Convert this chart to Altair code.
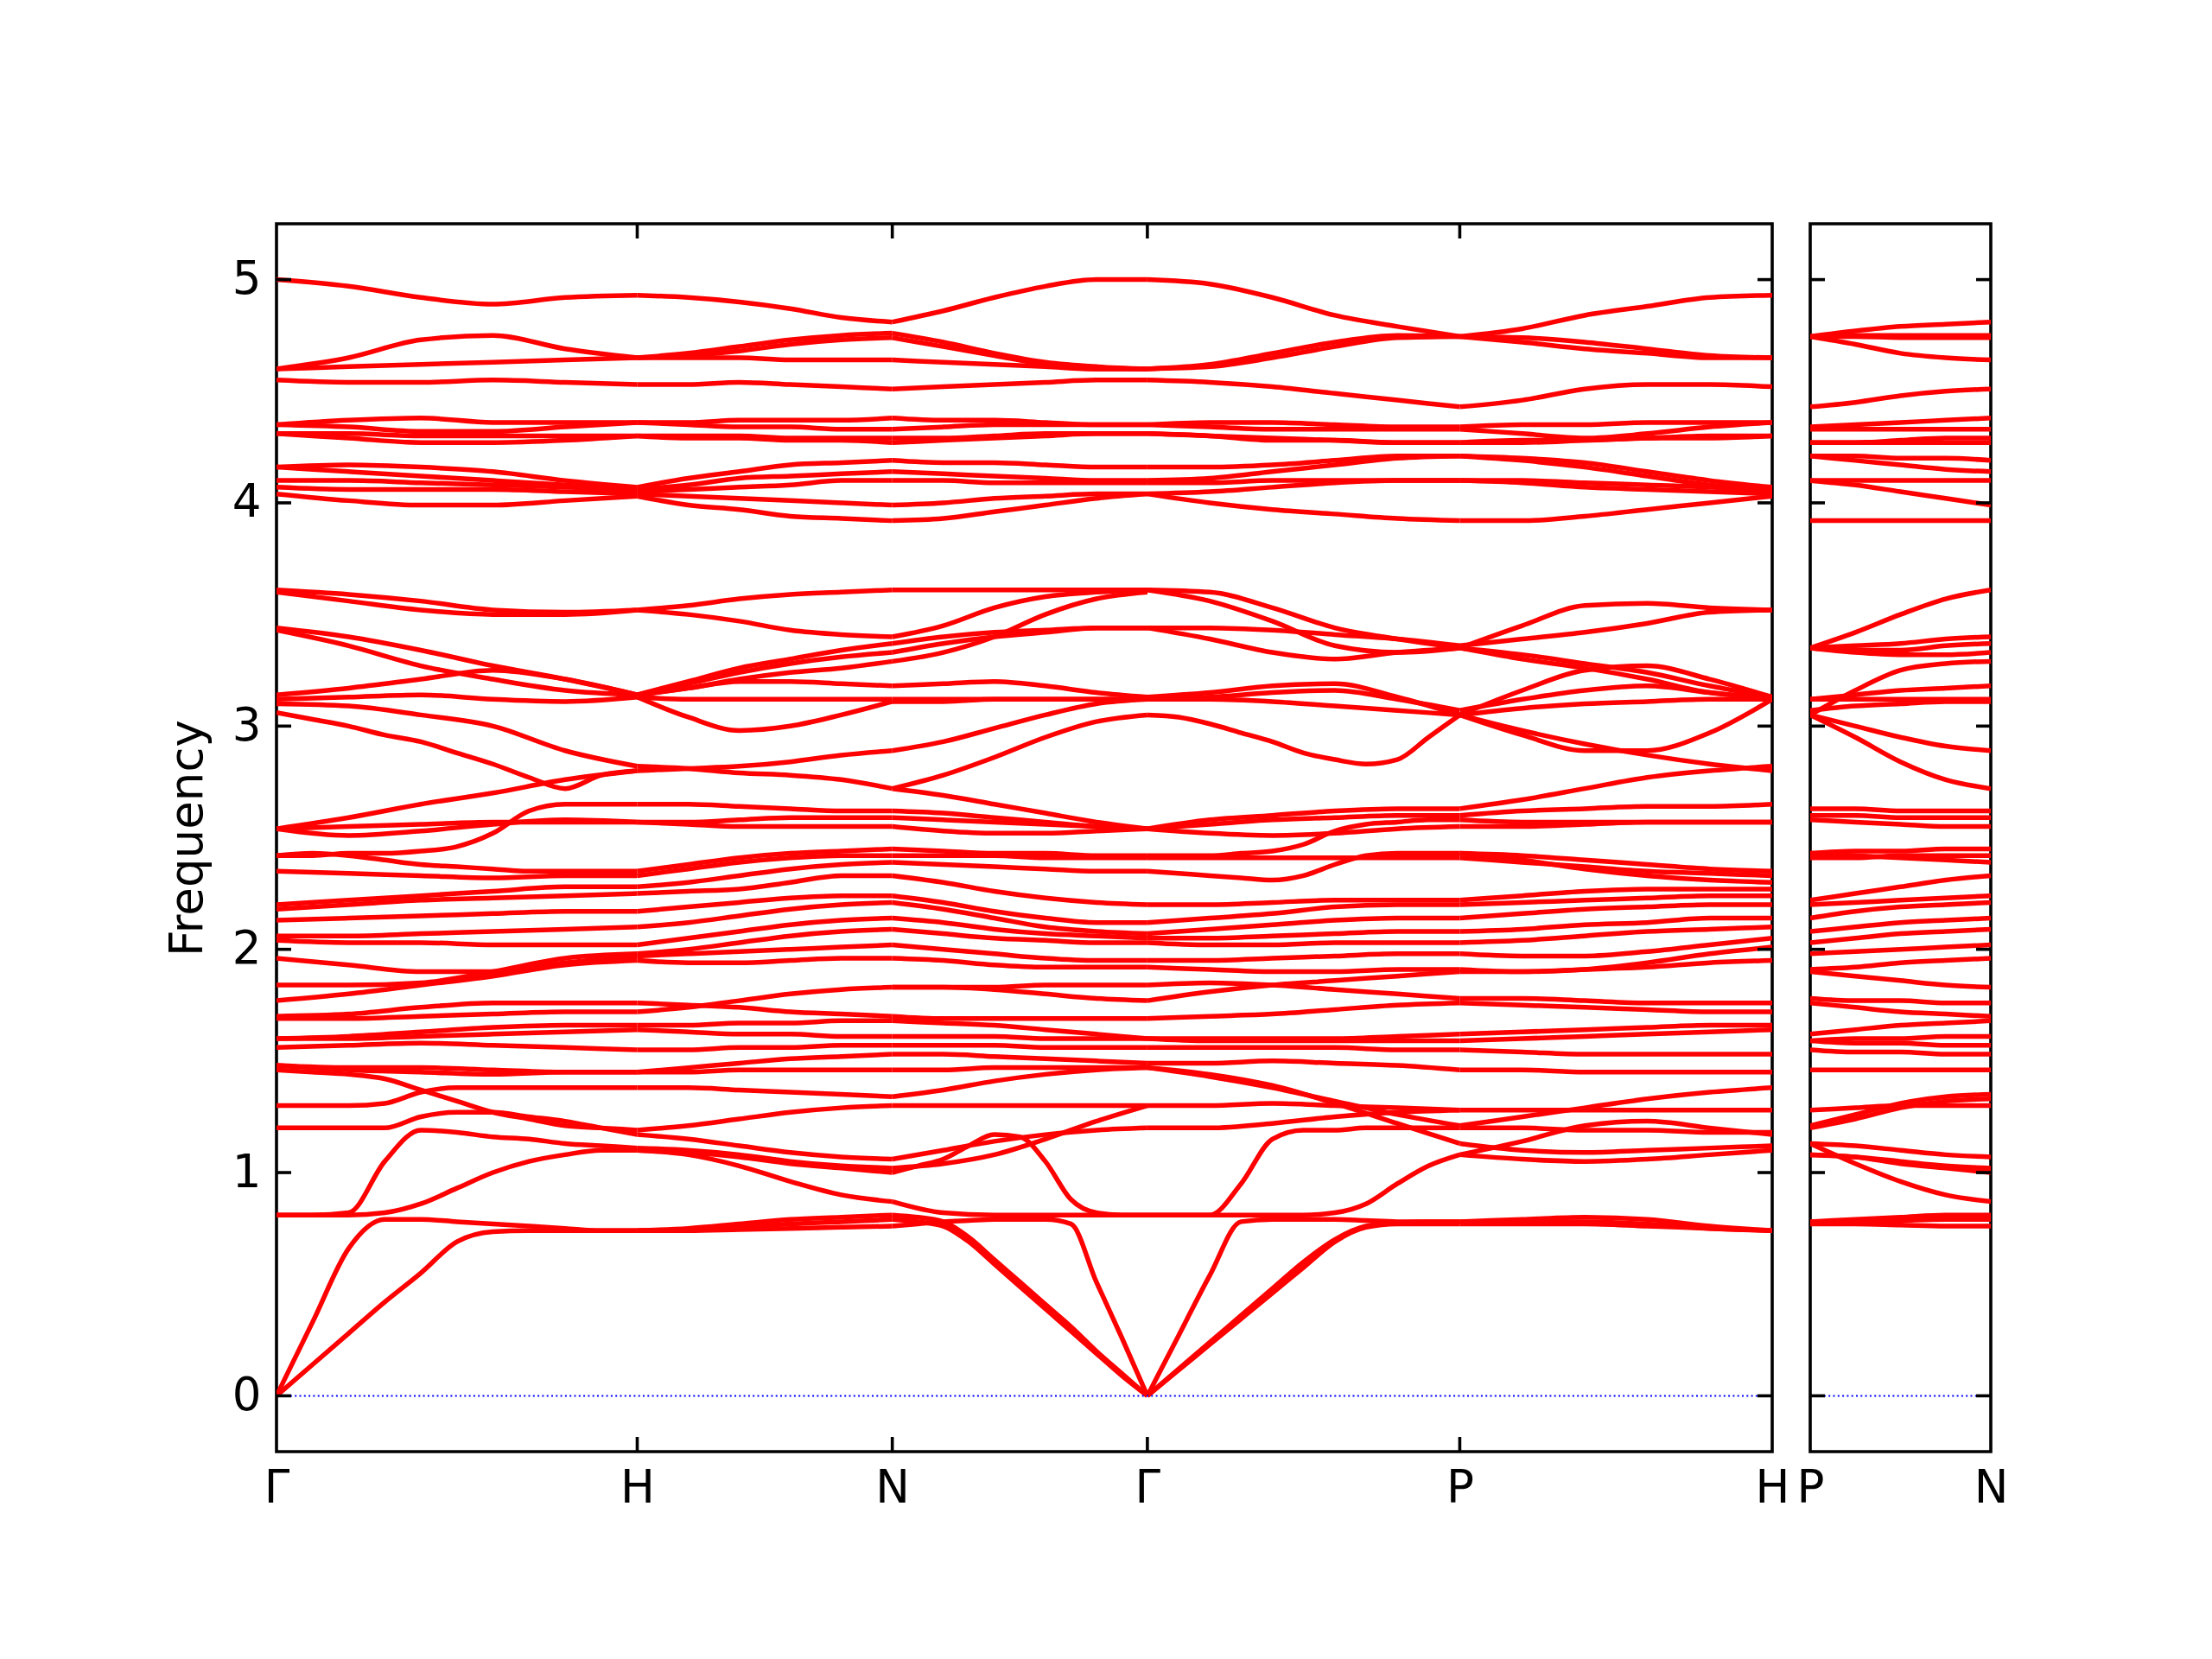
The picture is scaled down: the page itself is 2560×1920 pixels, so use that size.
import altair as alt
import pandas as pd

# high-symmetry path (cumulative k-distance) and labels
sym_main = [0.0, 1.0, 1.7071, 2.4142, 3.2802, 4.1463]
lab_main = ["Γ", "H", "N", "Γ", "P", "H"]
sym_pn = [0.0, 0.5]
lab_pn = ["P", "N"]
y_ticks = [0, 1, 2, 3, 4, 5]

frac5 = [0.0, 0.25, 0.5, 0.75, 1.0]
frac6 = [0.0, 0.2, 0.4, 0.6, 0.8, 1.0]
frac11 = [i / 10 for i in range(11)]

seg_GH = [
    [5.00, 4.97, 4.92, 4.89, 4.92, 4.93],
    [4.60, 4.65, 4.73, 4.75, 4.69, 4.65],
    [4.60, 4.61, 4.62, 4.63, 4.64, 4.65],
    [4.55, 4.54, 4.54, 4.55, 4.54, 4.53],
    [4.35, 4.37, 4.38, 4.36, 4.36, 4.36],
    [4.35, 4.34, 4.32, 4.32, 4.34, 4.36],
    [4.31, 4.29, 4.27, 4.27, 4.28, 4.30],
    [4.31, 4.31, 4.30, 4.30, 4.30, 4.30],
    [4.16, 4.17, 4.16, 4.14, 4.10, 4.07],
    [4.16, 4.14, 4.12, 4.10, 4.08, 4.06],
    [4.10, 4.10, 4.09, 4.08, 4.07, 4.05],
    [4.07, 4.06, 4.06, 4.06, 4.05, 4.04],
    [4.04, 4.01, 3.99, 3.99, 4.01, 4.03],
    [3.61, 3.59, 3.56, 3.52, 3.51, 3.52],
    [3.60, 3.56, 3.52, 3.50, 3.50, 3.52],
    [3.44, 3.40, 3.34, 3.27, 3.21, 3.14],
    [3.43, 3.36, 3.27, 3.21, 3.16, 3.14],
    [3.14, 3.17, 3.21, 3.25, 3.21, 3.14],
    [3.12, 3.13, 3.14, 3.12, 3.11, 3.13],
    [3.10, 3.09, 3.05, 3.00, 2.89, 2.82],
    [3.06, 3.03, 3.00, 2.96, 2.93, 2.88, 2.83, 2.77, 2.72, 2.78, 2.80],
    [2.54, 2.59, 2.65, 2.70, 2.76, 2.80],
    [2.54, 2.55, 2.56, 2.57, 2.57, 2.57],
    [2.54, 2.51, 2.53, 2.56, 2.58, 2.57],
    [2.42, 2.42, 2.43, 2.43, 2.44, 2.46, 2.52, 2.62, 2.65, 2.65, 2.65],
    [2.42, 2.43, 2.42, 2.40, 2.38, 2.37, 2.36, 2.35, 2.35, 2.35, 2.35],
    [2.35, 2.34, 2.33, 2.32, 2.33, 2.33],
    [2.20, 2.22, 2.24, 2.26, 2.28, 2.28],
    [2.18, 2.20, 2.22, 2.23, 2.24, 2.25],
    [2.13, 2.14, 2.15, 2.16, 2.17, 2.17],
    [2.06, 2.06, 2.07, 2.08, 2.09, 2.10],
    [2.04, 2.03, 2.03, 2.02, 2.02, 2.02],
    [1.96, 1.93, 1.90, 1.90, 1.94, 1.97],
    [1.84, 1.84, 1.85, 1.90, 1.96, 1.98],
    [1.77, 1.80, 1.84, 1.88, 1.93, 1.95],
    [1.70, 1.71, 1.74, 1.76, 1.76, 1.76],
    [1.69, 1.69, 1.70, 1.71, 1.72, 1.72],
    [1.60, 1.61, 1.63, 1.65, 1.66, 1.66],
    [1.60, 1.60, 1.61, 1.62, 1.63, 1.64],
    [1.56, 1.57, 1.58, 1.57, 1.56, 1.55],
    [1.48, 1.47, 1.47, 1.46, 1.45, 1.45],
    [1.48, 1.46, 1.45, 1.44, 1.45, 1.45],
    [1.46, 1.45, 1.44, 1.42, 1.37, 1.32, 1.27, 1.24, 1.21, 1.20, 1.19],
    [1.30, 1.30, 1.30, 1.31, 1.36, 1.38, 1.38, 1.38, 1.38, 1.38, 1.38],
    [1.20, 1.20, 1.20, 1.20, 1.25, 1.27, 1.27, 1.25, 1.23, 1.20, 1.17],
    [0.81, 0.81, 0.82, 1.05, 1.19, 1.18, 1.16, 1.15, 1.13, 1.12, 1.11],
    [0.81, 0.81, 0.81, 0.82, 0.86, 0.93, 1.00, 1.05, 1.08, 1.10, 1.10],
    [0.00, 0.33, 0.66, 0.79, 0.79, 0.78, 0.77, 0.76, 0.75, 0.74, 0.74],
    [0.00, 0.14, 0.28, 0.42, 0.55, 0.69, 0.735, 0.74, 0.74, 0.74, 0.74],
]

seg_HN = [
    [4.93, 4.92, 4.90, 4.87, 4.83, 4.81],
    [4.65, 4.67, 4.70, 4.73, 4.75, 4.76],
    [4.65, 4.66, 4.68, 4.71, 4.73, 4.74],
    [4.65, 4.65, 4.65, 4.64, 4.64, 4.64],
    [4.53, 4.53, 4.54, 4.53, 4.52, 4.51],
    [4.36, 4.36, 4.37, 4.37, 4.37, 4.38],
    [4.36, 4.35, 4.34, 4.34, 4.33, 4.33],
    [4.30, 4.29, 4.29, 4.28, 4.28, 4.27],
    [4.30, 4.30, 4.30, 4.29, 4.29, 4.29],
    [4.07, 4.11, 4.14, 4.17, 4.18, 4.19],
    [4.06, 4.08, 4.11, 4.12, 4.13, 4.14],
    [4.05, 4.06, 4.07, 4.08, 4.10, 4.10],
    [4.04, 4.03, 4.02, 4.01, 4.00, 3.99],
    [4.03, 3.99, 3.97, 3.94, 3.93, 3.92],
    [3.52, 3.54, 3.57, 3.59, 3.60, 3.61],
    [3.52, 3.50, 3.47, 3.43, 3.41, 3.40],
    [3.14, 3.20, 3.26, 3.30, 3.34, 3.37],
    [3.14, 3.19, 3.24, 3.28, 3.31, 3.33],
    [3.14, 3.17, 3.21, 3.24, 3.26, 3.29],
    [3.14, 3.17, 3.20, 3.20, 3.19, 3.18],
    [3.13, 3.12, 3.12, 3.12, 3.12, 3.12],
    [3.13, 3.04, 2.98, 3.00, 3.05, 3.11],
    [2.82, 2.81, 2.79, 2.78, 2.76, 2.72],
    [2.80, 2.81, 2.82, 2.84, 2.87, 2.89],
    [2.65, 2.65, 2.64, 2.63, 2.62, 2.62],
    [2.57, 2.57, 2.58, 2.59, 2.59, 2.59],
    [2.57, 2.56, 2.55, 2.55, 2.55, 2.55],
    [2.35, 2.38, 2.41, 2.43, 2.44, 2.45],
    [2.33, 2.36, 2.39, 2.41, 2.42, 2.42],
    [2.28, 2.30, 2.33, 2.36, 2.38, 2.39],
    [2.25, 2.26, 2.27, 2.30, 2.33, 2.33],
    [2.17, 2.19, 2.21, 2.23, 2.24, 2.24],
    [2.10, 2.12, 2.15, 2.18, 2.20, 2.21],
    [2.02, 2.05, 2.08, 2.11, 2.13, 2.14],
    [1.98, 2.00, 2.03, 2.06, 2.08, 2.09],
    [1.97, 1.98, 1.99, 2.00, 2.01, 2.02],
    [1.95, 1.94, 1.94, 1.95, 1.96, 1.96],
    [1.76, 1.75, 1.74, 1.72, 1.71, 1.70],
    [1.72, 1.74, 1.77, 1.80, 1.82, 1.83],
    [1.66, 1.66, 1.67, 1.67, 1.68, 1.68],
    [1.64, 1.63, 1.62, 1.62, 1.61, 1.61],
    [1.55, 1.55, 1.56, 1.56, 1.57, 1.57],
    [1.45, 1.47, 1.49, 1.51, 1.52, 1.53],
    [1.45, 1.45, 1.46, 1.46, 1.46, 1.46],
    [1.38, 1.38, 1.37, 1.36, 1.35, 1.34],
    [1.19, 1.21, 1.24, 1.27, 1.29, 1.30],
    [1.17, 1.15, 1.12, 1.09, 1.07, 1.06],
    [1.11, 1.10, 1.08, 1.05, 1.03, 1.02],
    [1.10, 1.09, 1.07, 1.04, 1.02, 1.00],
    [1.10, 1.08, 1.03, 0.96, 0.90, 0.87],
    [0.74, 0.75, 0.77, 0.79, 0.80, 0.81],
    [0.74, 0.745, 0.755, 0.77, 0.78, 0.79],
    [0.74, 0.74, 0.745, 0.75, 0.755, 0.76],
]

seg_NG = [
    [4.81, 4.86, 4.92, 4.97, 5.00, 5.00],
    [4.76, 4.72, 4.67, 4.63, 4.61, 4.60],
    [4.74, 4.70, 4.66, 4.62, 4.60, 4.60],
    [4.64, 4.63, 4.62, 4.61, 4.60, 4.60],
    [4.51, 4.52, 4.53, 4.54, 4.55, 4.55],
    [4.38, 4.37, 4.37, 4.36, 4.35, 4.35],
    [4.33, 4.34, 4.35, 4.35, 4.35, 4.35],
    [4.27, 4.28, 4.29, 4.30, 4.31, 4.31],
    [4.29, 4.29, 4.30, 4.31, 4.31, 4.31],
    [4.19, 4.18, 4.18, 4.17, 4.16, 4.16],
    [4.14, 4.13, 4.12, 4.11, 4.10, 4.10],
    [4.10, 4.10, 4.09, 4.09, 4.09, 4.09],
    [3.99, 4.00, 4.02, 4.03, 4.04, 4.04],
    [3.92, 3.93, 3.96, 3.99, 4.02, 4.04],
    [3.61, 3.61, 3.61, 3.61, 3.61, 3.61],
    [3.40, 3.45, 3.53, 3.58, 3.60, 3.61],
    [3.37, 3.40, 3.42, 3.43, 3.44, 3.44],
    [3.33, 3.37, 3.40, 3.42, 3.44, 3.44],
    [3.29, 3.33, 3.40, 3.50, 3.57, 3.60],
    [3.18, 3.19, 3.20, 3.18, 3.15, 3.13],
    [3.12, 3.12, 3.12, 3.12, 3.12, 3.12],
    [3.11, 3.11, 3.12, 3.12, 3.12, 3.12],
    [2.89, 2.93, 2.99, 3.05, 3.10, 3.12],
    [2.72, 2.78, 2.86, 2.95, 3.02, 3.05],
    [2.72, 2.69, 2.65, 2.61, 2.57, 2.54],
    [2.62, 2.61, 2.59, 2.57, 2.55, 2.54],
    [2.59, 2.58, 2.57, 2.56, 2.55, 2.54],
    [2.55, 2.53, 2.52, 2.52, 2.53, 2.54],
    [2.45, 2.44, 2.43, 2.43, 2.42, 2.42],
    [2.42, 2.42, 2.42, 2.41, 2.41, 2.41],
    [2.39, 2.38, 2.37, 2.36, 2.35, 2.35],
    [2.33, 2.30, 2.26, 2.23, 2.21, 2.20],
    [2.24, 2.21, 2.17, 2.14, 2.12, 2.12],
    [2.21, 2.18, 2.14, 2.10, 2.08, 2.07],
    [2.14, 2.12, 2.09, 2.07, 2.06, 2.05],
    [2.09, 2.07, 2.05, 2.04, 2.03, 2.03],
    [2.02, 2.00, 1.98, 1.96, 1.95, 1.95],
    [1.96, 1.95, 1.93, 1.92, 1.92, 1.92],
    [1.83, 1.83, 1.83, 1.84, 1.84, 1.84],
    [1.83, 1.83, 1.82, 1.80, 1.78, 1.77],
    [1.70, 1.69, 1.69, 1.69, 1.69, 1.69],
    [1.68, 1.67, 1.66, 1.64, 1.62, 1.60],
    [1.61, 1.61, 1.61, 1.60, 1.60, 1.60],
    [1.57, 1.57, 1.57, 1.56, 1.56, 1.56],
    [1.53, 1.53, 1.52, 1.51, 1.50, 1.49],
    [1.46, 1.46, 1.47, 1.47, 1.47, 1.47],
    [1.34, 1.37, 1.41, 1.44, 1.46, 1.47],
    [1.30, 1.30, 1.30, 1.30, 1.30, 1.30],
    [1.06, 1.10, 1.14, 1.17, 1.19, 1.20],
    [1.02, 1.04, 1.08, 1.15, 1.23, 1.30],
    [1.00, 1.03, 1.06, 1.12, 1.17, 1.16, 1.05, 0.88, 0.82, 0.81, 0.81],
    [0.87, 0.82, 0.81, 0.81, 0.81, 0.81],
    [0.81, 0.80, 0.78, 0.71, 0.61, 0.51, 0.41, 0.31, 0.20, 0.10, 0.00],
    [0.79, 0.78, 0.76, 0.69, 0.59, 0.49, 0.39, 0.29, 0.19, 0.09, 0.00],
    [0.76, 0.77, 0.78, 0.785, 0.79, 0.79, 0.79, 0.77, 0.51, 0.26, 0.00],
]

seg_GP = [
    [5.00, 4.98, 4.92, 4.84, 4.79, 4.745],
    [4.60, 4.62, 4.67, 4.72, 4.75, 4.745],
    [4.60, 4.61, 4.65, 4.70, 4.74, 4.745],
    [4.55, 4.54, 4.52, 4.49, 4.46, 4.43],
    [4.35, 4.36, 4.36, 4.35, 4.34, 4.34],
    [4.35, 4.34, 4.33, 4.33, 4.33, 4.33],
    [4.31, 4.30, 4.28, 4.28, 4.27, 4.27],
    [4.31, 4.30, 4.29, 4.28, 4.27, 4.27],
    [4.16, 4.16, 4.17, 4.19, 4.21, 4.21],
    [4.10, 4.11, 4.14, 4.17, 4.20, 4.21],
    [4.09, 4.09, 4.10, 4.10, 4.10, 4.10],
    [4.04, 4.05, 4.07, 4.09, 4.10, 4.10],
    [4.04, 4.00, 3.97, 3.95, 3.93, 3.92],
    [3.61, 3.60, 3.53, 3.44, 3.39, 3.35],
    [3.61, 3.56, 3.47, 3.36, 3.33, 3.35],
    [3.44, 3.44, 3.43, 3.41, 3.39, 3.36],
    [3.44, 3.39, 3.33, 3.30, 3.33, 3.35],
    [3.13, 3.15, 3.18, 3.19, 3.13, 3.05],
    [3.12, 3.13, 3.15, 3.16, 3.12, 3.07],
    [3.12, 3.12, 3.11, 3.09, 3.07, 3.05],
    [3.05, 3.04, 3.01, 2.97, 2.93, 2.88, 2.85, 2.83, 2.85, 2.95, 3.05],
    [2.54, 2.58, 2.60, 2.62, 2.63, 2.63],
    [2.54, 2.56, 2.58, 2.59, 2.60, 2.60],
    [2.54, 2.52, 2.51, 2.52, 2.54, 2.55],
    [2.42, 2.42, 2.42, 2.43, 2.44, 2.47, 2.53, 2.56, 2.57, 2.58, 2.58],
    [2.41, 2.41, 2.41, 2.41, 2.41, 2.41],
    [2.35, 2.34, 2.33, 2.32, 2.31, 2.33, 2.38, 2.42, 2.43, 2.43, 2.43],
    [2.20, 2.20, 2.21, 2.22, 2.22, 2.22],
    [2.12, 2.14, 2.16, 2.19, 2.20, 2.20],
    [2.07, 2.09, 2.11, 2.13, 2.14, 2.14],
    [2.05, 2.05, 2.06, 2.07, 2.08, 2.08],
    [2.03, 2.02, 2.02, 2.03, 2.03, 2.03],
    [1.95, 1.95, 1.96, 1.97, 1.98, 1.98],
    [1.92, 1.91, 1.90, 1.90, 1.91, 1.91],
    [1.84, 1.85, 1.84, 1.82, 1.80, 1.78],
    [1.77, 1.81, 1.84, 1.86, 1.88, 1.90],
    [1.69, 1.70, 1.71, 1.73, 1.75, 1.76],
    [1.60, 1.60, 1.60, 1.60, 1.61, 1.62],
    [1.60, 1.59, 1.59, 1.59, 1.59, 1.59],
    [1.56, 1.56, 1.56, 1.56, 1.55, 1.55],
    [1.49, 1.49, 1.50, 1.49, 1.48, 1.46],
    [1.47, 1.43, 1.38, 1.32, 1.26, 1.21],
    [1.47, 1.44, 1.39, 1.31, 1.22, 1.13],
    [1.30, 1.30, 1.31, 1.30, 1.29, 1.28],
    [1.20, 1.20, 1.22, 1.25, 1.27, 1.28],
    [0.81, 0.81, 0.81, 0.95, 1.15, 1.19, 1.19, 1.20, 1.20, 1.20, 1.20],
    [0.81, 0.81, 0.81, 0.81, 0.81, 0.81, 0.82, 0.86, 0.95, 1.03, 1.08],
    [0.00, 0.27, 0.54, 0.78, 0.79, 0.79, 0.79, 0.785, 0.78, 0.78, 0.78],
    [0.00, 0.115, 0.23, 0.345, 0.46, 0.575, 0.69, 0.755, 0.77, 0.77, 0.77],
    [0.00, 0.12, 0.24, 0.36, 0.48, 0.60, 0.70, 0.76, 0.775, 0.78, 0.78],
]

seg_PH = [
    [4.745, 4.78, 4.84, 4.88, 4.92, 4.93],
    [4.745, 4.72, 4.69, 4.67, 4.65, 4.65],
    [4.745, 4.74, 4.72, 4.69, 4.66, 4.65],
    [4.43, 4.46, 4.51, 4.53, 4.53, 4.52],
    [4.34, 4.35, 4.35, 4.36, 4.36, 4.36],
    [4.33, 4.31, 4.29, 4.31, 4.34, 4.36],
    [4.27, 4.27, 4.28, 4.29, 4.30, 4.30],
    [4.27, 4.28, 4.28, 4.29, 4.29, 4.30],
    [4.21, 4.20, 4.18, 4.14, 4.10, 4.07],
    [4.21, 4.19, 4.16, 4.12, 4.08, 4.06],
    [4.10, 4.10, 4.09, 4.08, 4.07, 4.05],
    [4.10, 4.09, 4.07, 4.06, 4.05, 4.04],
    [3.92, 3.92, 3.94, 3.97, 4.00, 4.03],
    [3.35, 3.32, 3.28, 3.24, 3.18, 3.13],
    [3.35, 3.45, 3.54, 3.55, 3.53, 3.52],
    [3.36, 3.39, 3.42, 3.46, 3.51, 3.52],
    [3.35, 3.30, 3.26, 3.21, 3.15, 3.13],
    [3.05, 3.16, 3.25, 3.27, 3.21, 3.13],
    [3.05, 2.98, 2.92, 2.87, 2.83, 2.80],
    [3.07, 3.12, 3.16, 3.18, 3.15, 3.12],
    [3.05, 2.96, 2.89, 2.89, 2.97, 3.12],
    [3.05, 3.08, 3.10, 3.11, 3.12, 3.12],
    [2.63, 2.67, 2.72, 2.77, 2.80, 2.82],
    [2.60, 2.62, 2.63, 2.64, 2.64, 2.65],
    [2.58, 2.57, 2.57, 2.57, 2.57, 2.57],
    [2.55, 2.55, 2.56, 2.57, 2.57, 2.57],
    [2.43, 2.42, 2.40, 2.38, 2.36, 2.35],
    [2.41, 2.39, 2.37, 2.35, 2.34, 2.33],
    [2.43, 2.40, 2.36, 2.33, 2.31, 2.30],
    [2.22, 2.24, 2.26, 2.27, 2.27, 2.27],
    [2.20, 2.21, 2.22, 2.23, 2.24, 2.24],
    [2.14, 2.16, 2.18, 2.19, 2.20, 2.20],
    [2.08, 2.09, 2.11, 2.12, 2.14, 2.14],
    [2.03, 2.04, 2.06, 2.08, 2.09, 2.10],
    [1.98, 1.97, 1.97, 1.99, 2.02, 2.05],
    [1.91, 1.90, 1.91, 1.94, 1.98, 2.01],
    [1.90, 1.90, 1.91, 1.92, 1.94, 1.95],
    [1.78, 1.78, 1.77, 1.76, 1.76, 1.76],
    [1.76, 1.75, 1.74, 1.73, 1.72, 1.72],
    [1.62, 1.63, 1.64, 1.65, 1.66, 1.66],
    [1.59, 1.60, 1.61, 1.62, 1.63, 1.64],
    [1.55, 1.54, 1.53, 1.53, 1.53, 1.53],
    [1.46, 1.46, 1.45, 1.45, 1.45, 1.45],
    [1.21, 1.25, 1.29, 1.33, 1.36, 1.38],
    [1.28, 1.28, 1.28, 1.28, 1.28, 1.28],
    [1.20, 1.20, 1.19, 1.19, 1.18, 1.18],
    [1.13, 1.10, 1.09, 1.10, 1.11, 1.12],
    [1.08, 1.06, 1.05, 1.06, 1.08, 1.10],
    [1.08, 1.14, 1.21, 1.23, 1.20, 1.17],
    [0.78, 0.79, 0.80, 0.79, 0.76, 0.74],
    [0.77, 0.77, 0.77, 0.76, 0.75, 0.74],
    [0.78, 0.78, 0.78, 0.77, 0.75, 0.74],
]

seg_PN = [
    [4.745, 4.77, 4.79, 4.80, 4.81],
    [4.745, 4.75, 4.75, 4.75, 4.75],
    [4.745, 4.745, 4.74, 4.74, 4.74],
    [4.745, 4.71, 4.67, 4.65, 4.64],
    [4.43, 4.45, 4.48, 4.50, 4.51],
    [4.34, 4.35, 4.36, 4.37, 4.38],
    [4.33, 4.33, 4.33, 4.33, 4.33],
    [4.27, 4.27, 4.28, 4.29, 4.29],
    [4.27, 4.27, 4.27, 4.27, 4.27],
    [4.21, 4.21, 4.20, 4.20, 4.19],
    [4.21, 4.19, 4.17, 4.15, 4.14],
    [4.10, 4.10, 4.10, 4.10, 4.10],
    [4.10, 4.08, 4.05, 4.02, 3.99],
    [3.92, 3.92, 3.92, 3.92, 3.92],
    [3.35, 3.42, 3.50, 3.57, 3.61],
    [3.35, 3.36, 3.37, 3.39, 3.40],
    [3.35, 3.34, 3.34, 3.36, 3.37],
    [3.35, 3.33, 3.32, 3.32, 3.33],
    [3.05, 3.16, 3.25, 3.28, 3.29],
    [3.12, 3.14, 3.16, 3.17, 3.18],
    [3.12, 3.12, 3.12, 3.12, 3.12],
    [3.07, 3.09, 3.10, 3.11, 3.11],
    [3.05, 3.00, 2.95, 2.91, 2.89],
    [3.05, 2.95, 2.84, 2.76, 2.72],
    [2.63, 2.63, 2.62, 2.62, 2.62],
    [2.60, 2.60, 2.59, 2.59, 2.59],
    [2.58, 2.57, 2.56, 2.55, 2.55],
    [2.43, 2.44, 2.44, 2.45, 2.45],
    [2.41, 2.41, 2.42, 2.42, 2.42],
    [2.43, 2.42, 2.41, 2.40, 2.39],
    [2.22, 2.25, 2.28, 2.31, 2.33],
    [2.20, 2.21, 2.22, 2.23, 2.24],
    [2.14, 2.17, 2.19, 2.20, 2.21],
    [2.08, 2.10, 2.12, 2.13, 2.14],
    [2.03, 2.05, 2.07, 2.08, 2.09],
    [1.98, 1.99, 2.00, 2.01, 2.02],
    [1.91, 1.92, 1.94, 1.95, 1.96],
    [1.90, 1.88, 1.86, 1.84, 1.83],
    [1.78, 1.77, 1.77, 1.76, 1.76],
    [1.76, 1.74, 1.72, 1.71, 1.70],
    [1.62, 1.64, 1.66, 1.67, 1.68],
    [1.59, 1.60, 1.60, 1.61, 1.61],
    [1.59, 1.58, 1.58, 1.57, 1.57],
    [1.55, 1.54, 1.54, 1.53, 1.53],
    [1.46, 1.46, 1.46, 1.46, 1.46],
    [1.28, 1.29, 1.30, 1.30, 1.30],
    [1.21, 1.26, 1.31, 1.34, 1.35],
    [1.20, 1.24, 1.29, 1.32, 1.33],
    [1.13, 1.12, 1.10, 1.08, 1.07],
    [1.13, 1.04, 0.96, 0.90, 0.87],
    [1.08, 1.07, 1.05, 1.03, 1.02],
    [1.08, 1.07, 1.04, 1.02, 1.00],
    [0.78, 0.79, 0.80, 0.81, 0.81],
    [0.78, 0.78, 0.785, 0.79, 0.79],
    [0.77, 0.77, 0.765, 0.76, 0.76],
]


def grid_for(row):
    return {5: frac5, 6: frac6, 11: frac11}[len(row)]


def build(segments, name):
    recs = []
    for si, (rows, x0, x1) in enumerate(segments):
        for ci, row in enumerate(rows):
            for f, v in zip(grid_for(row), row):
                recs.append({"k": x0 + f * (x1 - x0), "freq": v,
                             "curve": f"{name}{si}-{ci}"})
    return pd.DataFrame(recs)


main_segments = [
    (seg_GH, sym_main[0], sym_main[1]),
    (seg_HN, sym_main[1], sym_main[2]),
    (seg_NG, sym_main[2], sym_main[3]),
    (seg_GP, sym_main[3], sym_main[4]),
    (seg_PH, sym_main[4], sym_main[5]),
]
df_main = build(main_segments, "m")
df_pn = build([(seg_PN, sym_pn[0], sym_pn[1])], "p")


def label_expr(pos, labs):
    parts = []
    for i in range(len(pos) - 1):
        mid = (pos[i] + pos[i + 1]) / 2
        parts.append(f"datum.value < {mid:.5f} ? '{labs[i]}' : ")
    return "".join(parts) + f"'{labs[-1]}'"


FONT = "DejaVu Sans"
FS = 53
H = 1421
W1 = 1731
W2 = 209
TL = 17
RED = "#ff0000"

yscale = alt.Scale(domain=[-0.25, 5.25], nice=False, zero=False)


def panel(df, pos, labs, width, show_y):
    xscale = alt.Scale(domain=[pos[0], pos[-1]], nice=False, zero=False)
    xaxis = alt.Axis(values=pos, labelExpr=label_expr(pos, labs), title=None,
                     ticks=False, tickSize=0, domain=False, grid=False,
                     labelFontSize=FS, labelFont=FONT, labelColor="black",
                     labelPadding=16, labelFlush=False, labelOverlap=False)
    if show_y:
        yaxis = alt.Axis(values=y_ticks, format="d", title="Frequency", ticks=False,
                         tickSize=0, domain=False, grid=False, labelFontSize=FS,
                         labelFont=FONT, labelColor="black", labelPadding=18,
                         titleFontSize=FS, titleFont=FONT, titleFontWeight="normal",
                         titleColor="black", titlePadding=24, labelFlush=False)
        yenc = lambda: alt.Y("freq:Q", scale=yscale)
    else:
        yaxis = None
        yenc = lambda: alt.Y("freq:Q", scale=yscale, axis=None)
    xenc = lambda: alt.X("k:Q", scale=xscale)

    lines = alt.Chart(df).mark_line(color=RED, strokeWidth=5.5, interpolate="monotone",
                                    clip=True).encode(
        x=alt.X("k:Q", scale=xscale, axis=xaxis),
        y=alt.Y("freq:Q", scale=yscale, axis=yaxis),
        detail="curve:N",
        order="k:Q",
    )
    zero = alt.Chart(pd.DataFrame({"freq": [0.0]})).mark_rule(
        color="#0000ff", strokeWidth=2, strokeDash=[2, 3.3]).encode(
        y=yenc(), x=alt.value(0), x2=alt.value(width))
    inner = pos[1:-1]
    layers = [lines, zero]
    if inner:
        xt = pd.DataFrame({"k": inner})
        layers.append(alt.Chart(xt).mark_rule(color="black", strokeWidth=3.6).encode(
            x=xenc(), y=alt.value(H), y2=alt.value(H - TL)))
        layers.append(alt.Chart(xt).mark_rule(color="black", strokeWidth=3.6).encode(
            x=xenc(), y=alt.value(0), y2=alt.value(TL)))
    yt = pd.DataFrame({"freq": y_ticks})
    layers.append(alt.Chart(yt).mark_rule(color="black", strokeWidth=3.6).encode(
        y=yenc(), x=alt.value(0), x2=alt.value(TL)))
    layers.append(alt.Chart(yt).mark_rule(color="black", strokeWidth=3.6).encode(
        y=yenc(), x=alt.value(width), x2=alt.value(width - TL)))
    return alt.layer(*layers).properties(width=width, height=H)


main = panel(df_main, sym_main, lab_main, W1, True)
side = panel(df_pn, sym_pn, lab_pn, W2, False)

chart = alt.hconcat(main, side, spacing=44, bounds="flush").properties(
    padding={"left": 181, "top": 247, "right": 20, "bottom": 20},
    background="white",
).configure_view(stroke="black", strokeWidth=3.6)

chart.save("out.html", embed_options={"renderer": "svg", "actions": False})
